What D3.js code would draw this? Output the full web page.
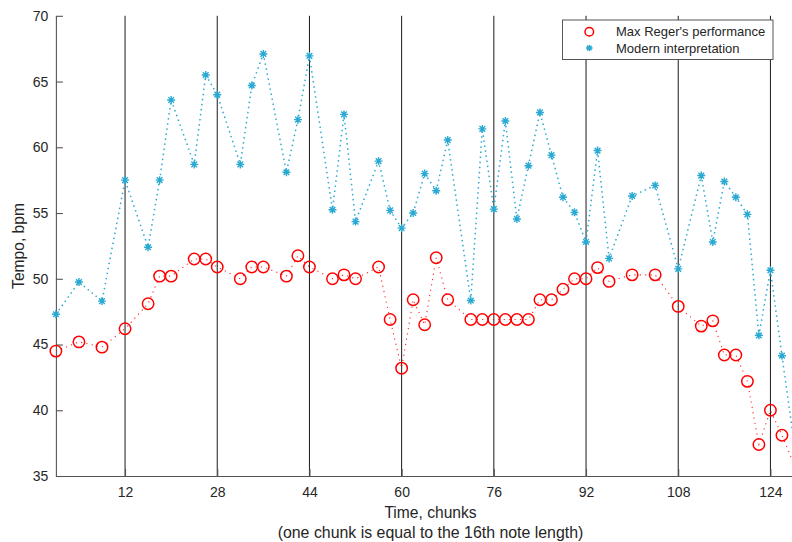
<!DOCTYPE html>
<html>
<head>
<meta charset="utf-8">
<script src="https://cdn.jsdelivr.net/npm/d3@7"></script>
<style>
  html, body { margin: 0; padding: 0; background: #fff; }
  svg { display: block; font-family: "Liberation Sans", Arial, Helvetica, sans-serif; }
</style>
</head>
<body>
<svg id="chart" width="792" height="542"></svg>
<script>
// Time positions of each measured chunk
const chunks = [0, 4, 8, 12, 16, 18, 20, 24, 26, 28, 32, 34, 36, 40, 42, 44, 48, 50, 52,
  56, 58, 60, 62, 64, 66, 68, 72, 74, 76, 78, 80, 82, 84, 86, 88, 90, 92, 94, 96,
  100, 104, 108, 112, 114, 116, 118, 120, 122, 124, 126, 130];

// Tempo (bpm) of Max Reger's own performance
const regerTempo = [44.5, 45.2, 44.8, 46.2, 48.1, 50.2, 50.2, 51.5, 51.5, 50.9, 50.0, 50.9, 50.9,
  50.2, 51.75, 50.9, 50.0, 50.3, 50.0, 50.9, 46.9, 43.2, 48.4, 46.5, 51.6, 48.4,
  46.9, 46.9, 46.9, 46.9, 46.9, 46.9, 48.4, 48.4, 49.2, 50.0, 50.0, 50.85, 49.8,
  50.3, 50.3, 47.9, 46.4, 46.8, 44.2, 44.2, 42.2, 37.4, 40.0, 38.1, 33.9];

// Tempo (bpm) of a modern interpretation
const modernTempo = [47.3, 49.75, 48.3, 57.5, 52.4, 57.5, 63.6, 58.7, 65.5, 64.0, 58.7, 64.7, 67.1,
  58.1, 62.1, 66.95, 55.25, 62.5, 54.35, 58.95, 55.2, 53.85, 55.0, 58.0, 56.7, 60.55,
  48.35, 61.4, 55.3, 62.0, 54.55, 58.6, 62.65, 59.4, 56.2, 55.05, 52.8, 59.75, 51.55,
  56.3, 57.1, 50.75, 57.85, 52.8, 57.4, 56.2, 54.9, 45.7, 50.65, 44.15, 31.6];

const xTicks = [12, 28, 44, 60, 76, 92, 108, 124];
const yTicks = [35, 40, 45, 50, 55, 60, 65, 70];
const seriesNames = ["Max Reger's performance", "Modern interpretation"];

const RED = "#ff0000";
const BLUE = "#2aa9d2";
const INK = "#262626";

const svg = d3.select("#chart");
const plotLeft = 55.9, plotTop = 15.8, plotBottom = 476, plotRight = 805;

const x = d3.scaleLinear().domain([0, 130]).range([plotLeft, plotRight]);
const y = d3.scaleLinear().domain([35, 70]).range([plotBottom, plotTop]);

// clip region = axes box (used for the connecting lines)
svg.append("defs").append("clipPath").attr("id", "plotClip")
  .append("rect").attr("x", plotLeft).attr("y", plotTop)
  .attr("width", plotRight - plotLeft).attr("height", plotBottom - plotTop);

// vertical reference lines at each tick
svg.append("g").selectAll("line").data(xTicks).join("line")
  .attr("x1", d => x(d)).attr("x2", d => x(d))
  .attr("y1", plotTop).attr("y2", plotBottom)
  .attr("stroke", "#1a1a1a").attr("stroke-width", 1);

// axes
const yAxis = d3.axisLeft(y).tickValues(yTicks).tickSizeInner(-7).tickSizeOuter(0).tickPadding(7.6);
const xAxis = d3.axisBottom(x).tickValues(xTicks).tickSizeInner(-7).tickSizeOuter(0).tickPadding(11.3);

const gy = svg.append("g").attr("transform", `translate(${plotLeft},0)`).call(yAxis);
const gx = svg.append("g").attr("transform", `translate(0,${plotBottom})`).call(xAxis);
[gx, gy].forEach(g => {
  g.select(".domain").attr("stroke", "#555").attr("stroke-width", 1.1);
  g.selectAll(".tick line").attr("stroke", "#555").attr("stroke-width", 1.1);
  g.selectAll(".tick text").attr("fill", INK).attr("font-size", 14)
    .attr("font-family", "Liberation Sans, Arial, sans-serif");
});

const inRange = d => d.t >= 0 && d.t <= 130 && d.v >= 35 && d.v <= 70;

const lineGen = d3.line().x(d => x(d.t)).y(d => y(d.v));
const red = chunks.map((t, i) => ({ t, v: regerTempo[i] }));
const blue = chunks.map((t, i) => ({ t, v: modernTempo[i] }));

// dotted connecting lines, clipped to the axes box
const lines = svg.append("g").attr("clip-path", "url(#plotClip)");
lines.append("path").datum(blue).attr("d", lineGen)
  .attr("fill", "none").attr("stroke", BLUE).attr("stroke-width", 1.5)
  .attr("stroke-dasharray", "1.5,3.6");
lines.append("path").datum(red).attr("d", lineGen)
  .attr("fill", "none").attr("stroke", RED).attr("stroke-width", 1.1)
  .attr("stroke-dasharray", "1.2,4.2").attr("opacity", 0.85);

// asterisk marker path
function star(s) {
  const d = s * 0.7071;
  return `M${-s},0H${s}M0,${-s}V${s}M${-d},${-d}L${d},${d}M${-d},${d}L${d},${-d}`;
}

// markers: only points inside the axis limits, drawn whole
svg.append("g").selectAll("path").data(blue.filter(inRange)).join("path")
  .attr("transform", d => `translate(${x(d.t)},${y(d.v)})`)
  .attr("d", star(4))
  .attr("fill", "none").attr("stroke", BLUE).attr("stroke-width", 1.4);

svg.append("g").selectAll("circle").data(red.filter(inRange)).join("circle")
  .attr("cx", d => x(d.t)).attr("cy", d => y(d.v)).attr("r", 5.7)
  .attr("fill", "none").attr("stroke", RED).attr("stroke-width", 1.5);

// axis titles
svg.append("text").attr("x", 430.5).attr("y", 518.3).attr("text-anchor", "middle")
  .attr("font-size", 15.6).attr("fill", INK).text("Time, chunks");
svg.append("text").attr("x", 430.5).attr("y", 537.8).attr("text-anchor", "middle")
  .attr("font-size", 15.9).attr("fill", INK).text("(one chunk is equal to the 16th note length)");
svg.append("text").attr("transform", "translate(23.5,246) rotate(-90)").attr("text-anchor", "middle")
  .attr("font-size", 15.6).attr("fill", INK).text("Tempo, bpm");

// legend
const lg = svg.append("g");
lg.append("rect").attr("x", 562.5).attr("y", 20).attr("width", 210.5).attr("height", 39.5)
  .attr("fill", "#fff").attr("stroke", "#555").attr("stroke-width", 1);
lg.append("circle").attr("cx", 589.3).attr("cy", 31.7).attr("r", 4.3)
  .attr("fill", "none").attr("stroke", RED).attr("stroke-width", 1.5);
lg.append("path").attr("transform", "translate(589.3,48)").attr("d", star(3.3))
  .attr("fill", "none").attr("stroke", BLUE).attr("stroke-width", 1.4);
lg.selectAll("text.lbl").data(seriesNames).join("text").attr("class", "lbl")
  .attr("x", 616).attr("y", (d, i) => 36.3 + i * 16.3)
  .attr("font-size", 13).attr("fill", INK).text(d => d);
</script>
</body>
</html>
